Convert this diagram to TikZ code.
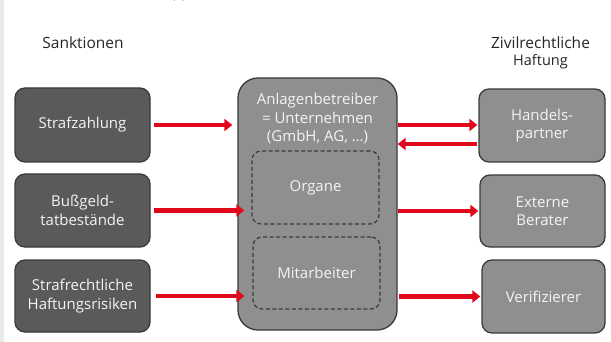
\documentclass[tikz,border=0pt]{standalone}
\usepackage{fontspec}
\setmainfont{Open Sans}
\usetikzlibrary{arrows.meta}
\definecolor{darkbox}{HTML}{5A5A5A}
\definecolor{midbox}{HTML}{8F8F8F}
\definecolor{edgec}{HTML}{3A3A3A}
\definecolor{arrred}{HTML}{E2081B}
\definecolor{strip}{HTML}{E6ECE6}
\definecolor{txtlight}{HTML}{F4F4F4}
\tikzset{
  darkbx/.style={draw=edgec, line width=1.3pt, fill=darkbox, rounded corners=10pt,
    text=txtlight, align=center, font=\fontsize{15}{18.5}\selectfont, inner sep=0pt},
  midbx/.style={draw=edgec, line width=1.3pt, fill=midbox, rounded corners=10pt,
    text=txtlight, align=center, font=\fontsize{15}{18.5}\selectfont, inner sep=0pt},
  dashbx/.style={draw=edgec, line width=1.2pt, dash pattern=on 4pt off 2.5pt, rounded corners=9pt,
    text=txtlight, align=center, font=\fontsize{15}{18.5}\selectfont, inner sep=0pt},
  hdr/.style={text=black!85, font=\fontsize{15.5}{18}\selectfont, inner sep=0pt},
  arr/.style={draw=arrred, line width=4.6pt, -{Triangle[length=8pt,width=12pt]}}
}
\begin{document}
\begin{tikzpicture}[x=1pt,y=-1pt]
\useasboundingbox (0,0) rectangle (611,342);
\fill[strip] (0,0) rectangle (4,342);
\draw[arrred, line width=1pt] (174,0.3) arc[start angle=200, end angle=340, radius=5];
% headers
\node[hdr] (hs) at (83,43) {Sanktionen};
\node[hdr] (hz) at (540.5,43) {Zivilrechtliche};
\node[hdr, font=\fontsize{14.5}{16}\selectfont] (hh) at (540.5,62) {Haftung};
% left boxes
\node[darkbx, minimum width=135pt, minimum height=74pt] (l1) at (82.5,125) {Strafzahlung};
\node[darkbx, minimum width=135pt, minimum height=73pt] (l2) at (82.5,210.5) {Bußgeld-\\tatbestände};
\node[darkbx, minimum width=135pt, minimum height=72pt] (l3) at (82.5,296) {Strafrechtliche\\Haftungsrisiken};
% centre
\node[midbx, rounded corners=20pt, minimum width=159pt, minimum height=252pt] (c) at (317.5,204) {};
\node[text=txtlight, align=center, font=\fontsize{15}{18.5}\selectfont, inner sep=0pt] (ct) at (317.5,118.5) {Anlagenbetreiber\\= Unternehmen\\(GmbH, AG, …)};
\node[dashbx, minimum width=127pt, minimum height=73pt] (o) at (315.5,187.5) {Organe};
\node[dashbx, minimum width=127pt, minimum height=72pt] (m) at (316.5,273) {Mitarbeiter};
% right boxes
\node[midbx, minimum width=126pt, minimum height=73pt] (r1) at (542,125.5) {Handels-\\partner};
\node[midbx, minimum width=125pt, minimum height=72pt] (r2) at (542.5,211) {Externe\\Berater};
\node[midbx, minimum width=123pt, minimum height=73pt] (r3) at (543.5,296.5) {Verifizierer};
% arrows left
\draw[arr, shorten <=3pt, shorten >=5pt] (l1.east) -- (l1.east -| c.west);
\draw[arr, shorten <=3pt, shorten >=-7pt] (l2.east) -- (l2.east -| c.west);
\draw[arr, shorten <=5pt, shorten >=-7pt] (l3.east) -- (l3.east -| c.west);
% arrows right
\draw[arr, shorten >=1pt] ([yshift=0.5pt]c.east |- r1.west) -- ([yshift=0.5pt]r1.west);
\draw[arr, shorten >=0pt, shorten <=1pt] ([yshift=-18.5pt]r1.west) -- ([yshift=-18.5pt]c.east |- r1.west);
\draw[arr, shorten >=1pt] (c.east |- r2.west) -- (r2.west);
\draw[arr, shorten <=1pt, shorten >=1pt] (c.east |- r3.west) -- (r3.west);
\end{tikzpicture}
\end{document}
